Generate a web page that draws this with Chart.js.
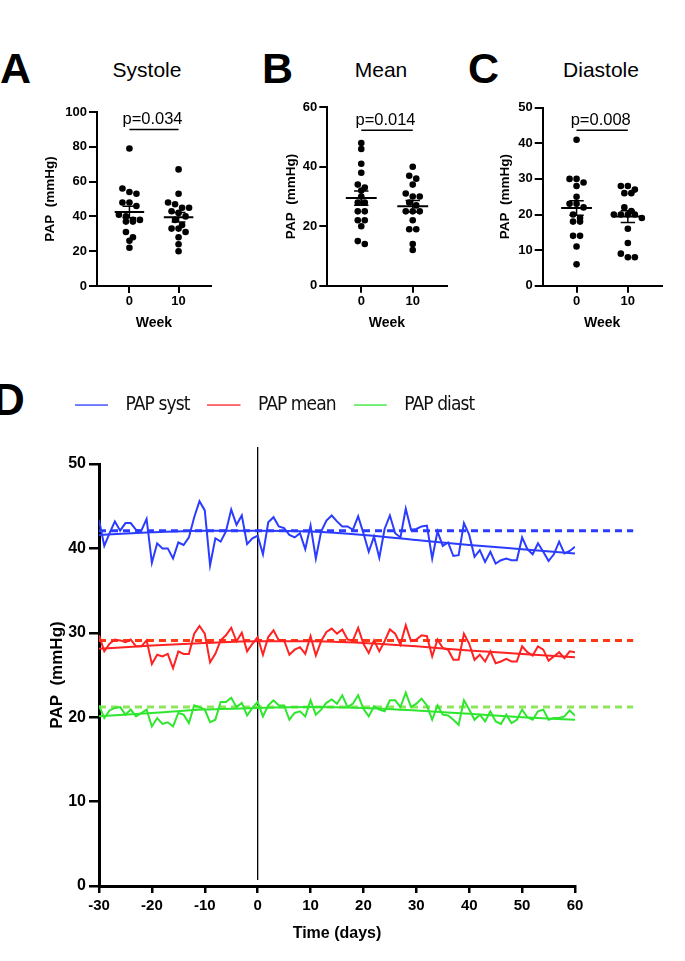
<!DOCTYPE html>
<html>
<head>
<meta charset="utf-8">
<script src="https://cdn.jsdelivr.net/npm/chart.js@4.4.1/dist/chart.umd.min.js"></script>
<style>
    body { margin: 0; background: #fff; width: 685px; height: 961px; position: relative; overflow: hidden;
           font-family: "Liberation Sans", Arial, sans-serif; }
    canvas { position: absolute; }
    .lettre { position: absolute; font-weight: bold; font-size: 43px; line-height: 43px; }
    .titre { position: absolute; font-size: 21px; line-height: 21px; width: 140px; text-align: center; top: 59px; }
</style>
</head>
<body>
<div class="lettre" style="left:0;top:47px">A</div>
<div class="lettre" style="left:262px;top:47px">B</div>
<div class="lettre" style="left:468px;top:47px">C</div>
<div class="lettre" style="left:-7px;top:378px;font-size:44px;line-height:44px">D</div>
<div class="titre" style="left:77px">Systole</div>
<div class="titre" style="left:311px">Mean</div>
<div class="titre" style="left:531px">Diastole</div>

<canvas id="grapheA" width="230" height="250" style="left:0;top:90px"></canvas>
<canvas id="grapheB" width="230" height="250" style="left:230px;top:90px"></canvas>
<canvas id="grapheC" width="225" height="250" style="left:460px;top:90px"></canvas>
<canvas id="grapheD" width="685" height="601" style="left:0;top:360px"></canvas>

<script>
// --- panneaux A, B, C : valeurs individuelles (mmHg) ---
const semaines = ['0', '10'];
const systoleS0 = [79, 56, 54, 53, 48, 48, 46, 41, 40, 38, 38, 37, 37, 31, 28, 26, 22];
const systoleS10 = [67, 53, 48, 47, 45, 45, 43, 42, 40, 38, 35, 33, 33, 31, 28, 24, 20];
const moyenneS0 = [48, 46, 41, 38, 34, 33, 32, 30, 28, 28, 25, 25, 22, 22, 20, 15, 14];
const moyenneS10 = [40, 37, 36, 34, 31, 30, 30, 28, 27, 25, 25, 25, 22, 19, 19, 14, 12];
const diastoleS0 = [41, 30, 30, 29, 28, 25, 23, 23, 22, 20, 19, 18, 18, 14, 14, 11, 6];
const diastoleS10 = [28, 28, 27, 26, 26, 22, 21, 20, 20, 20, 20, 19, 16, 12, 9, 8, 8];
const pValeurs = ['p=0.034', 'p=0.014', 'p=0.008'];

// --- panneau D : suivi quotidien ---
const jours = [-30, -29, -28, -27, -26, -25, -24, -23, -22, -21,
    -20, -19, -18, -17, -16, -15, -14, -13, -12, -11,
    -10, -9, -8, -7, -6, -5, -4, -3, -2, -1,
    0, 1, 2, 3, 4, 5, 6, 7, 8, 9,
    10, 11, 12, 13, 14, 15, 16, 17, 18, 19,
    20, 21, 22, 23, 24, 25, 26, 27, 28, 29,
    30, 31, 32, 33, 34, 35, 36, 37, 38, 39,
    40, 41, 42, 43, 44, 45, 46, 47, 48, 49,
    50, 51, 52, 53, 54, 55, 56, 57, 58, 59, 60];
const papSyst = [43.4, 40.3, 41.8, 43.2, 42.1, 43.0, 43.0, 42.2, 42.1, 43.5,
    38.3, 40.6, 40.0, 40.0, 38.8, 40.7, 40.4, 41.3, 43.7, 45.6,
    44.5, 38.0, 41.2, 40.8, 42.0, 44.6, 42.8, 43.9, 40.5, 41.2,
    41.5, 39.3, 43.1, 43.7, 42.6, 42.4, 41.6, 41.3, 41.8, 39.9,
    42.7, 38.8, 42.0, 43.3, 43.9, 43.2, 42.6, 42.6, 42.2, 43.8,
    41.8, 39.6, 41.4, 38.9, 42.3, 43.9, 41.8, 41.3, 44.7, 42.2,
    42.3, 42.6, 42.7, 38.8, 42.0, 40.3, 40.7, 39.1, 39.2, 43.0,
    41.6, 39.0, 39.8, 38.4, 39.6, 38.2, 38.6, 38.8, 38.6, 38.6,
    41.3, 39.9, 39.3, 40.6, 39.6, 38.5, 39.3, 40.8, 39.4, 39.7, 40.2];
const papMean = [29.7, 27.8, 28.7, 29.2, 29.1, 28.9, 29.2, 28.4, 28.4, 29.1,
    26.3, 27.4, 27.2, 27.5, 25.8, 27.8, 27.5, 27.5, 29.9, 30.8,
    29.9, 26.5, 27.5, 29.1, 29.7, 30.6, 29.0, 30.0, 27.8, 28.7,
    29.5, 27.4, 29.5, 30.3, 29.1, 29.1, 27.4, 28.0, 28.3, 27.5,
    29.6, 27.3, 29.0, 30.1, 30.5, 29.9, 30.4, 29.2, 29.1, 30.6,
    28.7, 27.6, 29.1, 27.8, 29.0, 30.4, 29.9, 28.6, 30.9, 29.0,
    29.2, 29.7, 29.6, 27.2, 29.2, 28.2, 28.0, 26.8, 26.8, 29.9,
    28.7, 26.8, 27.4, 26.6, 27.8, 26.4, 26.6, 26.9, 26.6, 26.6,
    28.4, 27.7, 27.3, 28.4, 28.0, 26.7, 27.2, 27.7, 27.0, 27.8, 27.7];
const papDiast = [21.4, 19.9, 20.8, 21.1, 21.2, 20.3, 20.9, 20.1, 20.5, 20.9,
    18.9, 19.9, 19.2, 19.4, 18.9, 20.5, 20.3, 19.3, 21.4, 21.2,
    20.9, 19.4, 19.7, 21.8, 21.8, 22.3, 21.2, 21.7, 20.2, 21.1,
    21.8, 20.1, 21.4, 22.0, 21.4, 21.4, 19.7, 20.5, 20.7, 20.1,
    22.0, 20.3, 20.9, 21.7, 22.1, 21.6, 22.6, 21.2, 21.6, 22.6,
    21.0, 20.1, 21.3, 20.9, 20.7, 22.0, 22.0, 21.2, 22.9, 21.2,
    21.6, 22.2, 21.4, 19.7, 21.4, 20.3, 20.2, 19.7, 19.1, 22.0,
    20.9, 19.7, 20.3, 19.5, 20.7, 19.5, 19.2, 20.3, 19.3, 19.7,
    20.9, 20.0, 19.7, 20.7, 20.9, 19.7, 19.9, 19.9, 20.1, 20.8, 20.2];
// courbes d'ajustement et moyennes de base
const joursAjust = [-30, -20, -10, 0, 10, 20, 30, 40, 50, 60];
const ajustSyst = [41.6, 41.9, 42.1, 42.1, 42.0, 41.6, 41.0, 40.4, 39.9, 39.4];
const ajustMean = [28.1, 28.5, 28.8, 29.0, 29.0, 28.8, 28.4, 27.9, 27.5, 27.1];
const ajustDiast = [20.1, 20.5, 20.9, 21.1, 21.2, 21.1, 20.8, 20.4, 20.0, 19.7];
const joursBase = [-30, 71];
const baseSyst = [42.1, 42.1];
const baseMean = [29.1, 29.1];
const baseDiast = [21.2, 21.2];
const nomsSeries = ['PAP syst', 'PAP mean', 'PAP diast'];

Chart.defaults.color = '#000';
Chart.defaults.font.family = '"Liberation Sans", Arial, sans-serif';

const bleu = '#2a3cff', rouge = '#ff2222', vert = '#2fe62f';
const rougeTiret = '#ff3a12', vertTiret = '#8fe65c';


function moyenneSem(vals){
    let n = vals.length;
    let m = vals.reduce((a, b) => a + b, 0) / n;
    let sd = Math.sqrt(vals.reduce((a, v) => a + (v - m) * (v - m), 0) / (n - 1));
    return [m, sd / Math.sqrt(n)];
}


// place les points en rangées symétriques, comme un nuage en essaim
function essaim(vals, centre, ys, pxParUnite){
    let ecartV = 5.5, ecartH = 7;
    let tri = vals.map((v, i) => ({v: v, i: i})).sort((a, b) => b.v - a.v);
    let res = new Array(vals.length);
    let rang = [];
    let debut = null;
    let placer = function(){
        rang.forEach((p, k) => {
            let dec = (k - (rang.length - 1) / 2) * ecartH;
            res[p.i] = {x: centre + dec / pxParUnite, y: p.v};
        });
    };
    tri.forEach(p => {
        let py = ys.getPixelForValue(p.v);
        if (debut === null || py - debut >= ecartV){
            placer();
            rang = [];
            debut = py;
        }
        rang.push(p);
    });
    placer();
    return res;
}


const pluginP = {
    id: 'pValeur',
    afterDatasetsDraw(chart, args, opts){
        let ctx = chart.ctx;
        ctx.save();
        ctx.font = '16.5px "Liberation Sans", Arial, sans-serif';
        ctx.fillStyle = '#000';
        ctx.textAlign = 'center';
        ctx.textBaseline = 'alphabetic';
        ctx.fillText(opts.texte, chart.scales.x.getPixelForValue(0.5) - 1.5, chart.scales.y.getPixelForValue(opts.hauteur) - 5);
        ctx.restore();
    }
};


function panneau(id, valS0, valS10, reglage){
    let [m0, s0] = moyenneSem(valS0);
    let [m1, s1] = moyenneSem(valS10);
    let barres = [], sem = [];
    [[0, m0, s0], [1, m1, s1]].forEach(([c, m, s]) => {
        barres.push({x: c - 0.3, y: m}, {x: c + 0.3, y: m}, {x: c, y: null});
        sem.push({x: c, y: m - s}, {x: c, y: m + s}, {x: c, y: null},
            {x: c - 0.14, y: m + s}, {x: c + 0.14, y: m + s}, {x: c, y: null},
            {x: c - 0.14, y: m - s}, {x: c + 0.14, y: m - s}, {x: c, y: null});
    });

    let cvs = document.getElementById(id).getContext('2d');
    let graphe = new Chart(cvs, {
        type: 'scatter',
        data: {
            datasets: [
                {data: barres, showLine: true, borderColor: '#000', borderWidth: 2, pointRadius: 0},
                {data: sem, showLine: true, borderColor: '#000', borderWidth: 1.5, pointRadius: 0},
                {data: [{x: 0, y: reglage.hauteurP}, {x: 1, y: reglage.hauteurP}], showLine: true,
                    borderColor: '#000', borderWidth: 1.5, pointRadius: 0},
                {data: valS0.map(v => ({x: 0, y: v})), pointRadius: 3.3, pointBackgroundColor: '#000', pointBorderWidth: 0},
                {data: valS10.map(v => ({x: 1, y: v})), pointRadius: 3.3, pointBackgroundColor: '#000', pointBorderWidth: 0},
            ]
        },
        options: {
            animation: false,
            responsive: false,
            layout: {padding: reglage.marge},
            plugins: {
                legend: {display: false},
                tooltip: {enabled: false},
                pValeur: {texte: reglage.texteP, hauteur: reglage.hauteurP},
            },
            scales: {
                x: {
                    type: 'linear', min: -0.66, max: 1.66,
                    afterBuildTicks: s => { s.ticks = [{value: 0}, {value: 1}]; },
                    afterFit: s => { s.height = reglage.hautX; },
                    ticks: {callback: v => semaines[v], font: {size: 13, weight: 'bold'}, padding: 1, maxRotation: 0},
                    grid: {drawOnChartArea: false, tickLength: 7, color: '#000', lineWidth: 2},
                    border: {color: '#000', width: 2},
                    title: {display: true, text: 'Week', font: {size: 14, weight: 'bold'}, padding: {top: 4, bottom: 4}},
                },
                y: {
                    min: 0, max: reglage.max,
                    afterFit: s => { s.width = reglage.largeurY; },
                    ticks: {stepSize: reglage.pas, font: {size: 13, weight: 'bold'}, padding: 2},
                    grid: {drawOnChartArea: false, tickLength: 8, color: '#000', lineWidth: 2},
                    border: {color: '#000', width: 2},
                    title: {display: true, text: 'PAP  (mmHg)', font: {size: 13.5, weight: 'bold'}, padding: {top: 4, bottom: 4}},
                }
            }
        },
        plugins: [pluginP]
    });

    let xs = graphe.scales.x, ys = graphe.scales.y;
    let pxParUnite = xs.getPixelForValue(1) - xs.getPixelForValue(0);
    graphe.data.datasets[3].data = essaim(valS0, 0, ys, pxParUnite);
    graphe.data.datasets[4].data = essaim(valS10, 1, ys, pxParUnite);
    graphe.update('none');
}


function iconeLigne(couleur){
    let c = document.createElement('canvas');
    c.width = 41;
    c.height = 4;
    let g = c.getContext('2d');
    g.fillStyle = couleur;
    g.fillRect(0, 1.4, 33, 1.3);
    return c;
}


function serie(xs, ys){
    return xs.map((x, i) => ({x: x, y: ys[i]}));
}


function afficherSuivi(){
    let trace = (donnees, couleur) => ({data: donnees, showLine: true, borderColor: couleur, borderWidth: 2,
        pointRadius: 0, tension: 0});
    let ajust = (donnees, couleur) => ({data: donnees, showLine: true, borderColor: couleur, borderWidth: 2,
        pointRadius: 0, cubicInterpolationMode: 'monotone'});
    let base = (donnees, couleur) => ({data: donnees, showLine: true, borderColor: couleur, borderWidth: 3,
        borderDash: [7, 5], pointRadius: 0, clip: false});

    let couleursLegende = [bleu, rouge, vert];
    let cvs = document.getElementById('grapheD').getContext('2d');
    let graphe = new Chart(cvs, {
        type: 'scatter',
        data: {
            datasets: [
                trace(serie(jours, papSyst), bleu),
                trace(serie(jours, papMean), rouge),
                trace(serie(jours, papDiast), vert),
                ajust(serie(joursAjust, ajustSyst), bleu),
                ajust(serie(joursAjust, ajustMean), rouge),
                ajust(serie(joursAjust, ajustDiast), vert),
                base(serie(joursBase, baseSyst), bleu),
                base(serie(joursBase, baseMean), rougeTiret),
                base(serie(joursBase, baseDiast), vertTiret),
                {data: [{x: 0, y: 0.7}, {x: 0, y: 52}], showLine: true, borderColor: '#000', borderWidth: 1.3,
                    pointRadius: 0, clip: false},
            ]
        },
        options: {
            animation: false,
            responsive: false,
            layout: {padding: {left: 43, right: 110, top: 57, bottom: 14}},
            plugins: {
                tooltip: {enabled: false},
                legend: {
                    position: 'top',
                    align: 'start',
                    labels: {
                        usePointStyle: true,
                        pointStyleWidth: 41,
                        boxHeight: 4,
                        padding: 18,
                        font: {size: 19, family: '"Liberation Sans Narrow", "DejaVu Sans Condensed", "Liberation Sans", sans-serif'},
                        generateLabels: () => nomsSeries.map((nom, i) => ({
                            text: nom, pointStyle: iconeLigne(couleursLegende[i]), fillStyle: couleursLegende[i],
                            strokeStyle: couleursLegende[i], lineWidth: 0, hidden: false, datasetIndex: i, fontColor: '#111'
                        })),
                    }
                },
            },
            scales: {
                x: {
                    type: 'linear', min: -30, max: 60,
                    afterFit: s => { s.height = 61; },
                    ticks: {stepSize: 10, font: {size: 15, weight: 'bold'}, padding: 4, maxRotation: 0},
                    grid: {drawOnChartArea: false, tickLength: 7, color: '#000', lineWidth: 2.5},
                    border: {color: '#000', width: 3},
                    title: {display: true, text: 'Time (days)', font: {size: 16, weight: 'bold'}, padding: {top: 4, bottom: 4}},
                },
                y: {
                    min: 0, max: 50,
                    afterFit: s => { s.width = 56; },
                    ticks: {stepSize: 10, font: {size: 16, weight: 'bold'}, padding: 3},
                    grid: {drawOnChartArea: false, tickLength: 10, color: '#000', lineWidth: 2.5},
                    border: {color: '#000', width: 3},
                    title: {display: true, text: 'PAP  (mmHg)', font: {size: 17, weight: 'bold'}, padding: {top: 4, bottom: 4}},
                }
            }
        },
        plugins: [{
            id: 'placeLegende',
            afterLayout(chart){
                chart.legend.left = 57;
                chart.legend.top = 17.5;
                chart.legend.right = 685;
            }
        }]
    });

    // légende un peu resserrée, comme la police étroite de l'original
    let legende = graphe.legend;
    let dessinLegende = legende.draw;
    legende.draw = function(zone){
        this.ctx.save();
        this.ctx.letterSpacing = '-0.9px';
        dessinLegende.call(this, zone);
        this.ctx.restore();
    };
    graphe.draw();
}


panneau('grapheA', systoleS0, systoleS10, {max: 100, pas: 20, hauteurP: 90, texteP: pValeurs[0],
    marge: {left: 38, right: 19, top: 22, bottom: 4}, largeurY: 59, hautX: 50});
panneau('grapheB', moyenneS0, moyenneS10, {max: 60, pas: 20, hauteurP: 52.3, texteP: pValeurs[1],
    marge: {left: 49.6, right: 13.3, top: 17.3, bottom: 4}, largeurY: 47.7, hautX: 50.3});
panneau('grapheC', diastoleS0, diastoleS10, {max: 50, pas: 10, hauteurP: 43.7, texteP: pValeurs[2],
    marge: {left: 32.9, right: 23.3, top: 17.7, bottom: 4}, largeurY: 49.8, hautX: 50.3});
afficherSuivi();
</script>
</body>
</html>
